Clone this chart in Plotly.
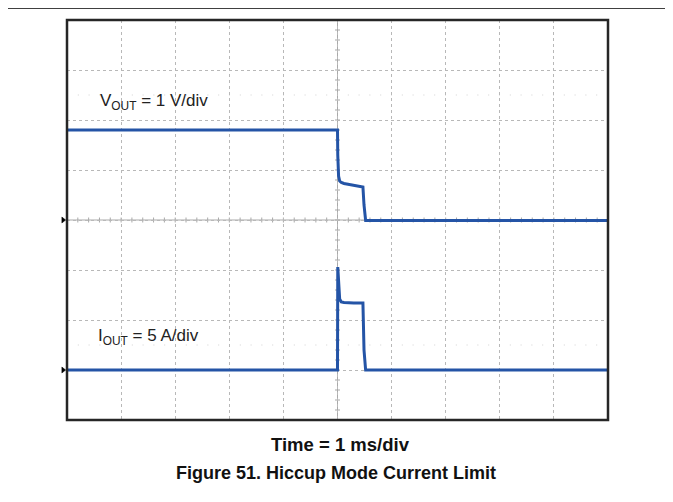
import plotly.graph_objects as go

# ---- data (read from the scope capture) ----
# time in ms (1 ms/div, 10 div on screen)
vout_t = [0.0, 5.00, 5.005, 5.02, 5.04, 5.07, 5.12, 5.30, 5.47, 5.49, 5.52, 10.0]
vout_v = [1.80, 1.80, 1.30, 0.88, 0.78, 0.75, 0.73, 0.70, 0.66, 0.30, -0.01, -0.01]

iout_t = [0.0, 5.00, 5.005, 5.02, 5.04, 5.07, 5.12, 5.30, 5.47, 5.49, 5.52, 10.0]
iout_a = [0.0, 0.0, 10.3, 8.6, 7.1, 6.8, 6.75, 6.7, 6.7, 2.0, 0.0, 0.0]

VOUT_SCALE = 1.0   # V/div
VOUT_OFFSET = 0.0  # div (ground marker at centre)
IOUT_SCALE = 5.0   # A/div
IOUT_OFFSET = -3.0 # div

labels = ["V<sub>OUT</sub> = 1 V/div", "I<sub>OUT</sub> = 5 A/div"]
xlabel = "Time = 1 ms/div"
caption = "Figure 51. Hiccup Mode Current Limit"

# ---- figure ----
TRACE = "#2454a6"
FONT = "Liberation Sans, Arial, sans-serif"

fig = go.Figure()
fig.add_trace(go.Scatter(
    x=vout_t, y=[v / VOUT_SCALE + VOUT_OFFSET for v in vout_v],
    mode="lines", line=dict(color=TRACE, width=3), hoverinfo="skip"))
fig.add_trace(go.Scatter(
    x=iout_t, y=[a / IOUT_SCALE + IOUT_OFFSET for a in iout_a],
    mode="lines", line=dict(color=TRACE, width=3), hoverinfo="skip"))

shapes = []
GRAY = "#a9a9a9"
# centre cross
shapes.append(dict(type="line", xref="x", yref="y", x0=5, x1=5, y0=-4, y1=4,
                   line=dict(color=GRAY, width=1), layer="below"))
shapes.append(dict(type="line", xref="x", yref="y", x0=0, x1=10, y0=0, y1=0,
                   line=dict(color=GRAY, width=1), layer="below"))
# minor ticks on the centre cross (5 per division)
for k in range(1, 50):
    xv = k * 0.2
    shapes.append(dict(type="line", xref="x", yref="y", ysizemode="pixel", yanchor=0,
                       x0=xv, x1=xv, y0=-2.5, y1=2.5,
                       line=dict(color=GRAY, width=1), layer="below"))
for k in range(1, 40):
    yv = -4 + k * 0.2
    shapes.append(dict(type="line", xref="x", yref="y", xsizemode="pixel", xanchor=5,
                       x0=-2.5, x1=2.5, y0=yv, y1=yv,
                       line=dict(color=GRAY, width=1), layer="below"))
# sparse cursor dots
for yv in (2.5, -2.5):
    shapes.append(dict(type="line", xref="x", yref="y", x0=0, x1=10, y0=yv, y1=yv,
                       line=dict(color="#d2d2d2", width=1, dash="1px,9.8px"), layer="below"))
# plot frame
shapes.append(dict(type="rect", xref="paper", yref="paper", x0=0, x1=1, y0=0, y1=1,
                   line=dict(color="#262626", width=2.5)))
# page frame (top and right rules)
shapes.append(dict(type="line", xref="paper", yref="paper", x0=-0.13, x1=1.1165,
                   y0=1.03, y1=1.03, line=dict(color="black", width=1.3)))
shapes.append(dict(type="line", xref="paper", yref="paper", x0=1.1165, x1=1.1165,
                   y0=1.03, y1=-0.22, line=dict(color="black", width=1.3)))
# channel ground markers
for yp in (0.5, 0.125):
    shapes.append(dict(type="path", xref="paper", yref="paper",
                       path=f"M -0.0095 {yp+0.0075} L -0.0025 {yp} L -0.0095 {yp-0.0075} Z",
                       fillcolor="black", line=dict(color="black", width=0.5)))

annotations = [
    dict(text=labels[0], xref="x", yref="y", x=0.57, y=2.36, xanchor="left", yanchor="middle",
         showarrow=False, font=dict(family=FONT, size=17, color="#222")),
    dict(text=labels[1], xref="x", yref="y", x=0.54, y=-2.34, xanchor="left", yanchor="middle",
         showarrow=False, font=dict(family=FONT, size=17, color="#222")),
    dict(text="<b>" + xlabel + "</b>", xref="paper", yref="paper", x=0.505, y=-0.061,
         xanchor="center", yanchor="middle", showarrow=False,
         font=dict(family=FONT, size=18.5, color="#111")),
    dict(text="<b>" + caption + "</b>", xref="paper", yref="paper", x=0.498, y=-0.1325,
         xanchor="center", yanchor="middle", showarrow=False,
         font=dict(family=FONT, size=18, color="#111")),
]

fig.update_layout(
    width=665, height=494,
    margin=dict(l=59, r=65, t=12, b=82),
    paper_bgcolor="white", plot_bgcolor="white",
    showlegend=False,
    shapes=shapes, annotations=annotations,
    xaxis=dict(range=[0, 10], dtick=1, showticklabels=False, ticks="",
               showgrid=True, gridcolor="#b8b8b8", gridwidth=1, griddash="dot",
               zeroline=False, showline=False, fixedrange=True),
    yaxis=dict(range=[-4, 4], dtick=1, showticklabels=False, ticks="",
               showgrid=True, gridcolor="#b8b8b8", gridwidth=1, griddash="dot",
               zeroline=False, showline=False, fixedrange=True),
)

fig.write_html("out.html")
